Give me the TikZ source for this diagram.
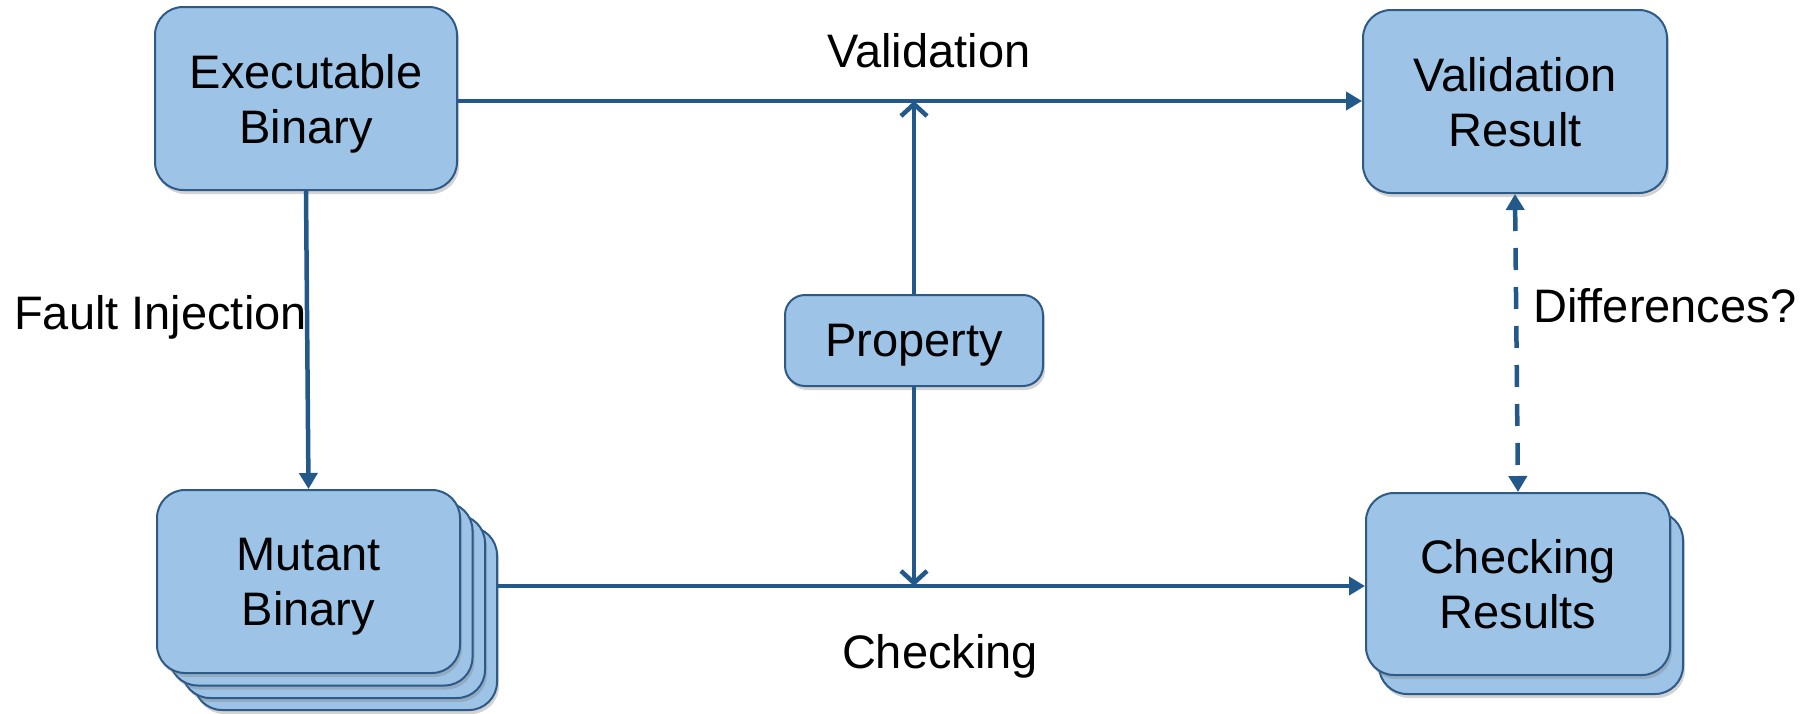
\documentclass[tikz,border=0pt]{standalone}
\usepackage{fontspec}
\setmainfont{Liberation Sans}
\usetikzlibrary{arrows.meta,shadows}
\definecolor{boxfill}{RGB}{157,195,230}
\definecolor{boxline}{RGB}{45,90,135}
\definecolor{arrc}{RGB}{35,88,138}
\tikzset{
  box/.style={draw=boxline, fill=boxfill, line width=2pt, rounded corners=28pt,
    align=center, inner sep=0pt, text depth=0pt,
    font=\fontsize{47}{55}\selectfont,
    drop shadow={opacity=0.35, shadow xshift=2pt, shadow yshift=-4pt}},
  conn/.style={draw=arrc, line width=4.5pt},
  tri/.style={-{Triangle[length=16pt,width=18pt]}},
  barb/.style={-{Straight Barb[length=12pt,width=26pt,line width=4.5pt]}},
  lbl/.style={inner sep=0pt, font=\fontsize{47}{55}\selectfont},
}
\begin{document}
\begin{tikzpicture}[x=1pt,y=-1pt]
\useasboundingbox (0,0) rectangle (1816,713);
% boxes
\node[box, minimum width=302pt, minimum height=183pt] (exe) at (306,98.5) {Executable\\Binary};
\node[box, minimum width=304pt, minimum height=183pt] (val) at (1515,101.5) {Validation\\Result};
\node[box, minimum width=258pt, minimum height=91pt, rounded corners=20pt] (prop) at (914,340.5) {Property};
% mutant stack
\node[box, minimum width=303pt, minimum height=183pt] (mut3) at (345.5,618.5) {};
\node[box, minimum width=303pt, minimum height=183pt] (mut2) at (333.5,606.5) {};
\node[box, minimum width=303pt, minimum height=183pt] (mut1) at (321,594) {};
\node[box, minimum width=303pt, minimum height=183pt] (mut) at (308.5,581.5) {Mutant\\Binary};
% checking stack
\node[box, minimum width=304pt, minimum height=182pt] (chk2) at (1531,603) {};
\node[box, minimum width=304pt, minimum height=182pt] (chk) at (1518,584) {Checking\\Results};
% junction coordinates
\coordinate (jt) at (prop.north |- 0,101);
\coordinate (jb) at (prop.south |- 0,586);
% connectors
\draw[conn, tri] (exe.east |- 0,101) -- (val.west |- 0,101);
\draw[conn, tri] (mut3.east |- 0,586) -- (chk.west |- 0,586);
\draw[conn, barb] (prop.north) -- (jt);
\draw[conn, barb] (prop.south) -- (jb);
\draw[conn, tri] (exe.south) -- (mut.north);
\draw[conn, dash pattern=on 22pt off 17pt, {Triangle[length=16pt,width=18pt]}-{Triangle[length=16pt,width=18pt]}] (val.south) -- (chk.north);
% labels
\node[lbl, anchor=base] (lval) at (929,67) {Validation};
\node[lbl, anchor=base] (lchk) at (940,668) {Checking};
\node[lbl, anchor=base west] (lfault) at (14,329) {Fault Injection};
\node[lbl, anchor=base west] (ldiff) at (1533,322) {Differences?};
\end{tikzpicture}
\end{document}
